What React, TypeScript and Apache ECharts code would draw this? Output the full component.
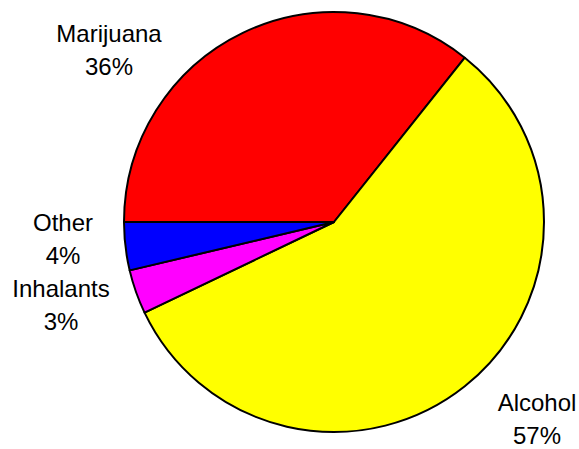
import React, { useEffect, useRef } from "react";
import * as echarts from "echarts";

const categories = ["Marijuana", "Alcohol", "Inhalants", "Other"];
const values = [35.7, 57.2, 3.4, 3.7];
const colors = ["#FF0000", "#FFFF00", "#FF00FF", "#0000FF"];
// label block anchor (centre x, top y) in pixels, same order as categories
const labelAnchors: [number, number][] = [
  [109, 11],
  [537, 380],
  [61, 266],
  [63, 200],
];

export default function App() {
  const ref = useRef<HTMLDivElement>(null);
  useEffect(() => {
    if (!ref.current) return;
    const chart = echarts.init(ref.current, undefined, { renderer: "svg" });
    chart.setOption({
      animation: false,
      backgroundColor: "#ffffff",
      series: [
        {
          type: "pie",
          center: [334, 222],
          radius: [0, 210],
          startAngle: 180,
          clockwise: true,
          percentPrecision: 0,
          data: categories.map((c, i) => ({
            name: c,
            value: values[i],
            itemStyle: { color: colors[i] },
          })),
          itemStyle: { borderColor: "#000000", borderWidth: 2 },
          label: {
            show: true,
            position: "outside",
            formatter: "{n|{b}}\n{p|{d}%}",
            overflow: "none",
            fontFamily: "Liberation Sans, Arial, sans-serif",
            fontSize: 24,
            color: "#000000",
            align: "center",
            rich: {
              n: {
                fontFamily: "Liberation Sans, Arial, sans-serif",
                fontSize: 24,
                lineHeight: 45,
                color: "#000000",
              },
              p: {
                fontFamily: "Liberation Sans, Arial, sans-serif",
                fontSize: 24,
                lineHeight: 20,
                color: "#000000",
              },
            },
          },
          labelLine: { show: false },
          labelLayout: (params: any) => {
            const p = labelAnchors[params.dataIndex];
            return { x: p[0], y: p[1], align: "center", verticalAlign: "top" };
          },
          emphasis: { disabled: true },
        },
      ],
    });
    return () => chart.dispose();
  }, []);
  return (
    <div
      ref={ref}
      style={{ position: "fixed", left: 0, top: 0, width: 579, height: 449 }}
    />
  );
}
